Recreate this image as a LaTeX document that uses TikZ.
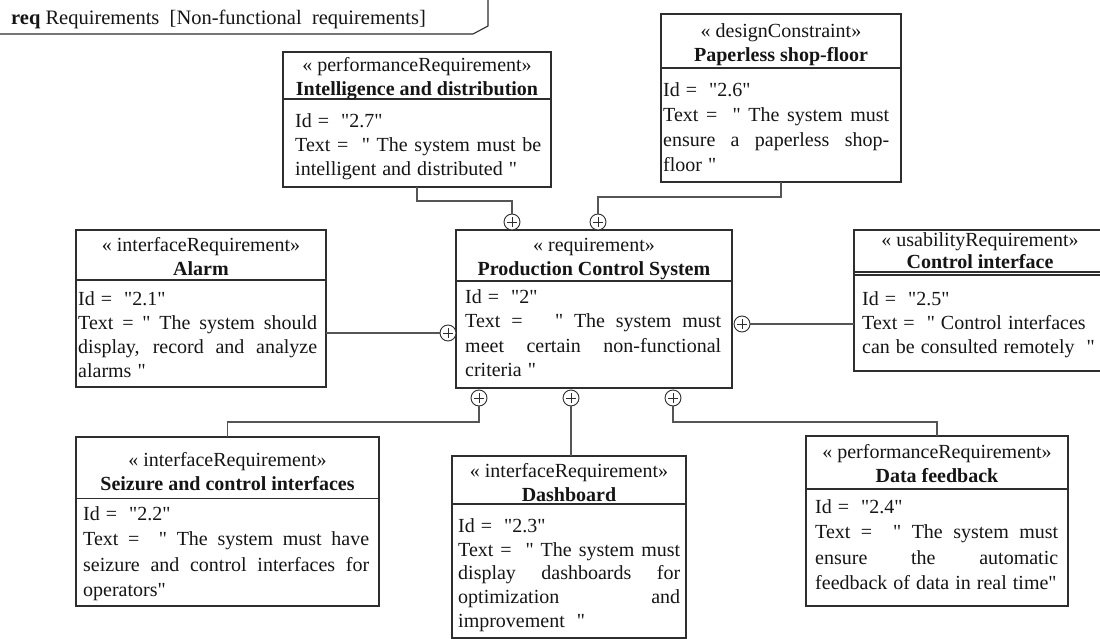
\documentclass[tikz,border=0pt]{standalone}
\usepackage{fontspec}
\setmainfont{Liberation Serif}[Ligatures=TeXOff]
\definecolor{boxline}{HTML}{2E2E2E}
\definecolor{wire}{HTML}{555555}
\definecolor{ink}{HTML}{151515}
% fixed struts so that every compartment text sits on the same baselines
\newcommand\hdrtop{\rule{0pt}{14pt}}
\newcommand\hdrbot{\rule[-5pt]{0pt}{5pt}}
\newcommand\bodytop{\noindent\spaceskip=0.3em plus 2em minus 0.05em\relax\rule{0pt}{15pt}}
% a line spread over the whole compartment width
\newcommand\jline[1]{\makebox[\hsize][s]{#1}}
\begin{document}
\begin{tikzpicture}[x=1pt,y=-1pt,
  reqbox/.style={draw=boxline, line width=1.1pt, inner sep=0pt, outer sep=0pt},
  sepline/.style={draw=boxline, line width=1.4pt},
  hdr/.style={align=center, inner sep=0pt, text=ink, font=\fontsize{20}{24}\selectfont},
  body/.style={anchor=north west, inner sep=0pt, text=ink, font=\fontsize{20}{#1}\selectfont},
  body/.default=25,
  conn/.style={draw=wire, line width=1.1pt},
  plus/.style={circle, draw=boxline, line width=0.9pt, minimum size=16pt, inner sep=0pt, fill=white,
    path picture={\draw[line width=0.8pt, boxline]
      ([xshift=-5pt]path picture bounding box.center) -- ([xshift=5pt]path picture bounding box.center)
      ([yshift=-5pt]path picture bounding box.center) -- ([yshift=5pt]path picture bounding box.center);}}
]
\useasboundingbox (0,0) rectangle (1100,639);
\clip (0,0) rectangle (1100,639);
\path[fill=white] (0,0) rectangle (1100,639);

% diagram frame heading
\node[anchor=base west, inner sep=0pt, text=ink, font=\fontsize{20.5}{22}\selectfont] (title) at (11,25)
  {\textbf{req} Requirements \ [Non-functional \ requirements]};
\draw[draw=boxline, line width=1.1pt] (0,34) -- (473,34) -- (488,26) -- (488,0);

% requirement boxes
\node[reqbox, minimum width=268pt, minimum height=135pt] (intel) at (417,119.5) {};
\node[reqbox, minimum width=240pt, minimum height=168pt] (paper) at (781,98) {};
\node[reqbox, minimum width=276pt, minimum height=158pt] (pcs) at (594,309) {};
\node[reqbox, minimum width=250pt, minimum height=157pt] (alarm) at (201,308.5) {};
\node[reqbox, minimum width=252pt, minimum height=141pt] (ctrl) at (980,300.5) {};
\node[reqbox, minimum width=303pt, minimum height=169pt] (seiz) at (227.5,521.5) {};
\node[reqbox, minimum width=234pt, minimum height=182pt] (dash) at (569,547) {};
\node[reqbox, minimum width=262pt, minimum height=170pt] (data) at (937,521) {};

% compartment separators
\draw[sepline] (283,99) -- (551,99);
\draw[sepline] (661,68) -- (901,68);
\draw[sepline] (456,281) -- (732,281);
\draw[sepline] (76,280) -- (326,280);
\draw[sepline] (854,272) -- (1106,272);
\draw[sepline] (854,275) -- (1106,275);
\draw[sepline] (76,498.5) -- (379,498.5);
\draw[sepline] (452,504) -- (686,504);
\draw[sepline] (806,489) -- (1068,489);

% headers
\node[hdr] (intel-h) at (417,79) {\hdrtop« performanceRequirement»\\\textbf{Intelligence and distribution}\hdrbot};
\node[hdr] (paper-h) at (781,45) {\hdrtop« designConstraint»\\\textbf{Paperless shop-floor}\hdrbot};
\node[hdr] (pcs-h) at (594,259) {\hdrtop« requirement»\\\textbf{Production Control System}\hdrbot};
\node[hdr] (alarm-h) at (201,258.5) {\hdrtop« interfaceRequirement»\\\textbf{Alarm}\hdrbot};
\node[hdr, font=\fontsize{20}{22}\selectfont] (ctrl-h) at (980,252.5) {\hdrtop« usabilityRequirement»\\\textbf{Control interface}\hdrbot};
\node[hdr] (seiz-h) at (227.5,473.5) {\hdrtop« interfaceRequirement»\\\textbf{Seizure and control interfaces}\hdrbot};
\node[hdr] (dash-h) at (569,485) {\hdrtop« interfaceRequirement»\\\textbf{Dashboard}\hdrbot};
\node[hdr] (data-h) at (937,466) {\hdrtop« performanceRequirement»\\\textbf{Data feedback}\hdrbot};

% attribute compartments
\node[body=24, text width=246pt] (intel-b) at (295,112)
  {\bodytop Id = \ "2.7"\\\jline{Text = \ " The system must be}\\intelligent and distributed "};
\node[body=25, text width=226pt] (paper-b) at (663,81)
  {\bodytop Id = \ "2.6"\\\jline{Text = \ " The system must}\\\jline{ensure a paperless shop-}\\floor "};
\node[body=24.5, text width=256pt] (pcs-b) at (465,288)
  {\bodytop Id = \ "2"\\\jline{Text = \ \ " The system must}\\\jline{meet certain non-functional}\\criteria "};
\node[body=24, text width=239pt] (alarm-b) at (78,290)
  {\bodytop Id = \ "2.1"\\\jline{Text = " The system should}\\\jline{display, record and analyze}\\alarms "};
\node[body=24, text width=240pt] (ctrl-b) at (862,290)
  {\bodytop Id = \ "2.5"\\Text = \ " Control interfaces\\can be consulted remotely \ "};
\node[body=25.5, text width=286pt] (seiz-b) at (83,505)
  {\bodytop Id = \ "2.2"\\\jline{Text = \ " The system must have}\\\jline{seizure and control interfaces for}\\operators"};
\node[body=23.8, text width=222pt] (dash-b) at (458,517)
  {\bodytop Id = \ "2.3"\\\jline{Text = \ " The system must}\\\jline{display dashboards for}\\\jline{optimization and}\\improvement \ "};
\node[body=25.5, text width=243pt] (data-b) at (815,498)
  {\bodytop Id = \ "2.4"\\\jline{Text = \ " The system must}\\\jline{ensure the automatic}\\feedback of data in real time"};

% containment ends on the composite requirement
\node[plus] (pI) at (512,222) {};
\node[plus] (pP) at (598,222) {};
\node[plus] (pA) at (448,333) {};
\node[plus] (pC) at (742,324) {};
\node[plus] (pS) at (479,398) {};
\node[plus] (pD) at (571,398) {};
\node[plus] (pF) at (673,398) {};

% containment connectors
\draw[conn] (intel.south) -- ++(0,14) -| (pI.north);
\draw[conn] (paper.south) -- ++(0,15) -| (pP.north);
\draw[conn] (pA.west) -- (pA.west -| alarm.east);
\draw[conn] (pC.east) -- (pC.east -| ctrl.west);
\draw[conn] (seiz.north) -- ++(0,-15) -| (pS.south);
\draw[conn] (pD.south) -- (pD.south |- dash.north);
\draw[conn] (data.north) -- ++(0,-14) -| (pF.south);
\end{tikzpicture}
\end{document}
